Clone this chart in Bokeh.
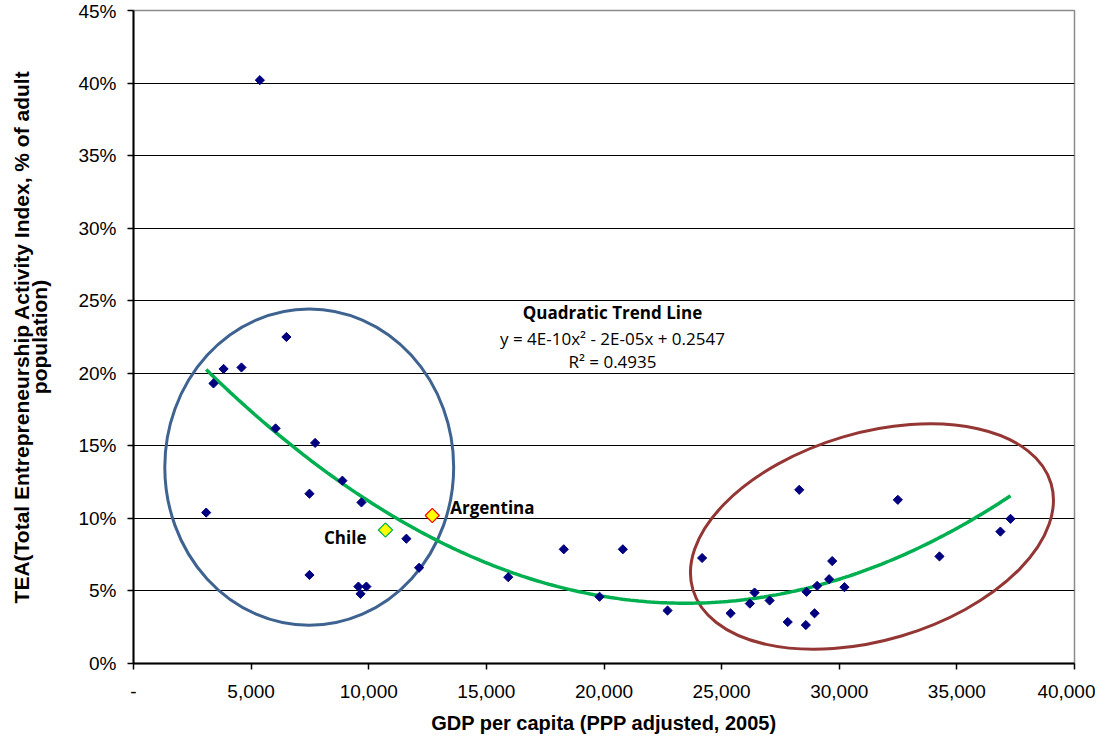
import numpy as np
from bokeh.plotting import figure
from bokeh.models import Range1d, FixedTicker, NumeralTickFormatter, Label
from bokeh.embed import file_html
from bokeh.resources import INLINE

# ---- data ----
gdp = [3090, 3400, 3830, 4590, 5370, 6040, 6500, 7480, 7480, 7720, 8880, 9560, 9650,
       9690, 9900, 11600, 12140, 15930, 18290, 19810, 20800, 22700, 24170, 25380, 26200,
       26400, 27040, 27810, 28300, 28580, 28610, 28950, 29060, 29570, 29700, 30220,
       32490, 34260, 36850, 37280]
tea = [0.104, 0.193, 0.203, 0.204, 0.402, 0.162, 0.225, 0.117, 0.061, 0.152, 0.126,
       0.053, 0.048, 0.111, 0.053, 0.086, 0.066, 0.0595, 0.0787, 0.046, 0.0787, 0.0365,
       0.0727, 0.0346, 0.0413, 0.0489, 0.0434, 0.0286, 0.1197, 0.0265, 0.0494, 0.0346,
       0.0535, 0.0581, 0.0706, 0.0526, 0.1128, 0.0738, 0.0909, 0.0997]
chile_gdp, chile_tea = 10710, 0.092
arg_gdp, arg_tea = 12700, 0.102
x_ticks = [0, 5000, 10000, 15000, 20000, 25000, 30000, 35000, 40000]
y_ticks = [0, 0.05, 0.10, 0.15, 0.20, 0.25, 0.30, 0.35, 0.40, 0.45]

p = figure(width=1095, height=736, x_range=Range1d(0, 40000), y_range=Range1d(0, 0.45),
           output_backend="svg", toolbar_location=None,
           min_border_left=133, min_border_right=21, min_border_top=10, min_border_bottom=72)
p.background_fill_color = "white"
p.outline_line_color = "#8c8c8c"
p.outline_line_width = 1.5

# axes
p.xaxis.ticker = FixedTicker(ticks=x_ticks)
p.xaxis.formatter = NumeralTickFormatter(format="0,0")
p.xaxis.major_label_overrides = {0: "-"}
p.yaxis.ticker = FixedTicker(ticks=y_ticks)
p.yaxis.formatter = NumeralTickFormatter(format="0%")
for ax in (p.xaxis, p.yaxis):
    ax.axis_line_color = "black"
    ax.axis_line_width = 2
    ax.major_tick_line_color = "black"
    ax.major_tick_line_width = 1.5
    ax.major_tick_out = 6
    ax.major_tick_in = 0
    ax.minor_tick_line_color = None
    ax.major_label_text_font = "Liberation Sans"
    ax.major_label_text_font_size = "19px"
    ax.major_label_text_color = "black"
    ax.axis_label_text_font = "Liberation Sans"
    ax.axis_label_text_font_style = "bold"
    ax.axis_label_text_color = "black"
p.xaxis.major_label_standoff = 15
p.yaxis.major_label_standoff = 11
p.xaxis.axis_label = "GDP per capita (PPP adjusted, 2005)"
p.xaxis.axis_label_text_font_size = "20px"
p.xaxis.axis_label_standoff = 11
p.yaxis.axis_label = "TEA(Total Entrepreneurship Activity Index, % of adult\npopulation)"
p.yaxis.axis_label_text_font_size = "21px"
p.yaxis.axis_label_text_line_height = 0.8
p.yaxis.axis_label_standoff = 24

p.xgrid.visible = False
p.ygrid.ticker = FixedTicker(ticks=y_ticks[1:-1])
p.ygrid.grid_line_color = "black"
p.ygrid.grid_line_width = 1

# trend line: quadratic least-squares fit of all points
all_x = np.array(gdp + [chile_gdp, arg_gdp], dtype=float)
all_y = np.array(tea + [chile_tea, arg_tea], dtype=float)
coef = np.polyfit(all_x, all_y, 2)
tx = np.linspace(min(gdp), max(gdp), 200)
ty = np.polyval(coef, tx)

# group ellipses
p.ellipse(x=7470, y=0.1353, width=12280, height=0.218, fill_color=None,
          line_color="#3e6390", line_width=3)
p.ellipse(x=31390, y=0.0875, width=15880, height=0.143, angle=0.288, fill_color=None,
          line_color="#943634", line_width=3)

p.line(tx, ty, line_color="#00b050", line_width=3.5)

p.scatter(gdp, tea, marker="square", angle=np.pi / 4, size=6.5,
          fill_color="#000080", line_color="#000080")
p.scatter([chile_gdp], [chile_tea], marker="square", angle=np.pi / 4, size=10,
          fill_color="#ffff00", line_color="#00b050", line_width=1.2)
p.scatter([arg_gdp], [arg_tea], marker="square", angle=np.pi / 4, size=10,
          fill_color="#ffff00", line_color="#ff0000", line_width=1.2)

lab_font = "Open Sans"
p.add_layout(Label(x=chile_gdp, y=chile_tea, x_offset=-19, y_offset=-8, text="Chile",
                   text_font=lab_font, text_font_style="bold", text_font_size="17px",
                   text_align="right", text_baseline="middle", text_color="black"))
p.add_layout(Label(x=arg_gdp, y=arg_tea, x_offset=18, y_offset=8, text="Argentina",
                   text_font=lab_font, text_font_style="bold", text_font_size="17px",
                   text_align="left", text_baseline="middle", text_color="black"))
p.add_layout(Label(x=20360, y=0.242, text="Quadratic Trend Line",
                   text_font=lab_font, text_font_style="bold", text_font_size="17px",
                   text_align="center", text_baseline="middle", text_color="black"))
p.add_layout(Label(x=20360, y=0.224, text="y = 4E-10x² - 2E-05x + 0.2547",
                   text_font=lab_font, text_font_size="17px",
                   text_align="center", text_baseline="middle", text_color="black"))
p.add_layout(Label(x=20360, y=0.208, text="R² = 0.4935",
                   text_font=lab_font, text_font_size="17px",
                   text_align="center", text_baseline="middle", text_color="black"))

open("out.html", "w").write(file_html(p, INLINE))
